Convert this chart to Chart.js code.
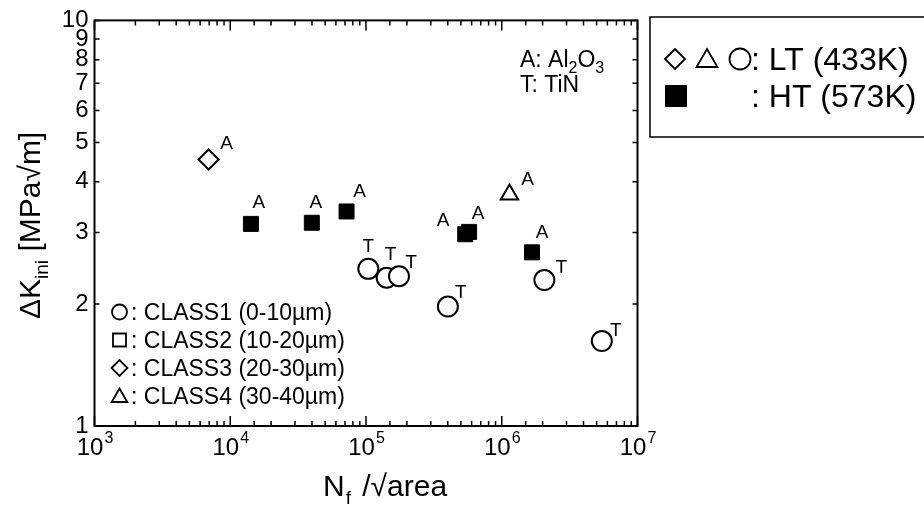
<!DOCTYPE html>
<html>
<head>
<meta charset="utf-8">
<script src="https://cdn.jsdelivr.net/npm/chart.js@4/dist/chart.umd.min.js"></script>
<style>
html,body{margin:0;padding:0;background:#fff;}
#wrap{width:924px;height:518px;}
</style>
</head>
<body>
<div id="wrap"><canvas id="c" width="924" height="518"></canvas></div>
<script>
// ---------- DATA ----------
const circleX = [104000, 142000, 175000, 401000, 2060000, 5460000];   // CLASS1, LT
const circleY = [2.44, 2.32, 2.34, 1.97, 2.29, 1.62];
const circleLabels = ['T', 'T', 'T', 'T', 'T', 'T'];

const diamondX = [6930];      // CLASS3, LT
const diamondY = [4.54];
const diamondLabels = ['A'];

const triangleX = [1140000];  // CLASS4, LT
const triangleY = [3.72];
const triangleLabels = ['A'];

const squareX = [14200, 39900, 71900, 538000, 575000, 1670000];   // HT
const squareY = [3.15, 3.17, 3.38, 2.97, 3.01, 2.68];
const squareLabels = ['A', 'A', 'A', 'A', 'A', 'A'];

const yTickValues = [1, 2, 3, 4, 5, 6, 7, 8, 9, 10];
const xDecades = [3, 4, 5, 6, 7];
const classLegend = [': CLASS1 (0-10µm)', ': CLASS2 (10-20µm)', ': CLASS3 (20-30µm)', ': CLASS4 (30-40µm)'];
const tempLegend = [': LT (433K)', ': HT (573K)'];

// ---------- STYLE ----------
const FONT = '"Liberation Sans", Arial, Helvetica, sans-serif';
// label offsets (px) relative to each marker
const circleOff = [[0,-22],[4,-23],[12,-13],[13,-14],[17,-12],[14,-10]];
const diamondOff = [[18,-16]];
const triangleOff = [[18,-15]];
const squareOff = [[8,-21],[4,-20],[13,-20],[-22,-13],[9,-18],[10,-20]];

function pts(xs, ys){ return xs.map((x,i)=>({x:x, y:ys[i]})); }

const datasets = [
  {label:'HT', data:pts(squareX, squareY), pointStyle:'rect', pointRadius:10.6,
   backgroundColor:'#000', borderColor:'#000', borderWidth:1, labels:squareLabels, offs:squareOff},
  {label:'CLASS3', data:pts(diamondX, diamondY), pointStyle:'rectRot', pointRadius:10,
   backgroundColor:'#fff', borderColor:'#000', borderWidth:2, labels:diamondLabels, offs:diamondOff},
  {label:'CLASS4', data:pts(triangleX, triangleY), pointStyle:'triangle', pointRadius:10,
   backgroundColor:'#fff', borderColor:'#000', borderWidth:2, labels:triangleLabels, offs:triangleOff},
  {label:'CLASS1', data:pts(circleX, circleY), pointStyle:'circle', pointRadius:10,
   backgroundColor:'#fff', borderColor:'#000', borderWidth:2, labels:circleLabels, offs:circleOff}
];

function drawSym(ctx, type, x, y, r, filled){
  ctx.beginPath();
  if(type==='circle'){ ctx.arc(x,y,r,0,Math.PI*2); }
  else if(type==='square'){ ctx.rect(x-r,y-r,2*r,2*r); }
  else if(type==='diamond'){ ctx.moveTo(x-r,y); ctx.lineTo(x,y-r); ctx.lineTo(x+r,y); ctx.lineTo(x,y+r); ctx.closePath(); }
  else if(type==='triangle'){ ctx.moveTo(x,y-r); ctx.lineTo(x+r*0.87,y+r*0.5); ctx.lineTo(x-r*0.87,y+r*0.5); ctx.closePath(); }
  if(filled){ ctx.fillStyle='#000'; ctx.fill(); }
  else { ctx.fillStyle='#fff'; ctx.fill(); ctx.strokeStyle='#000'; ctx.lineWidth=1.8; ctx.stroke(); }
}

const decor = {
  id:'decor',
  afterDatasetsDraw(chart){
    const ctx = chart.ctx;
    const xs = chart.scales.x, ys = chart.scales.y;
    const ca = chart.chartArea;
    ctx.save();
    // point labels
    ctx.fillStyle = '#000';
    ctx.font = '19px ' + FONT;
    ctx.textAlign = 'center'; ctx.textBaseline = 'middle';
    chart.data.datasets.forEach((ds, di)=>{
      const meta = chart.getDatasetMeta(di);
      meta.data.forEach((el, i)=>{
        const o = ds.offs[i];
        ctx.fillText(ds.labels[i], el.x + o[0], el.y + o[1]);
      });
    });

    // frame
    ctx.strokeStyle = '#000'; ctx.lineWidth = 2;
    ctx.strokeRect(ca.left, ca.top, ca.right-ca.left, ca.bottom-ca.top);
    // ticks
    ctx.lineWidth = 1.5;
    ctx.beginPath();
    xs.ticks.forEach(t=>{
      const px = xs.getPixelForValue(t.value);
      const isMajor = Math.abs(Math.log10(t.value) - Math.round(Math.log10(t.value))) < 1e-9;
      const L = isMajor ? 10 : 5;
      ctx.moveTo(px, ca.bottom); ctx.lineTo(px, ca.bottom - L);
      ctx.moveTo(px, ca.top); ctx.lineTo(px, ca.top + L);
    });
    ys.ticks.forEach(t=>{
      const py = ys.getPixelForValue(t.value);
      ctx.moveTo(ca.left, py); ctx.lineTo(ca.left + 5, py);
      ctx.moveTo(ca.right, py); ctx.lineTo(ca.right - 5, py);
    });
    ctx.stroke();

    // x tick labels 10^n
    ctx.fillStyle = '#000';
    ctx.textBaseline = 'alphabetic';
    xDecades.forEach(e=>{
      const px = xs.getPixelForValue(Math.pow(10, e));
      ctx.font = '24px ' + FONT;
      const w1 = ctx.measureText('10').width;
      ctx.font = '16px ' + FONT;
      const w2 = ctx.measureText(String(e)).width;
      const x0 = px - (w1 + w2)/2;
      ctx.font = '24px ' + FONT; ctx.textAlign = 'left';
      ctx.fillText('10', x0, 455);
      ctx.font = '16px ' + FONT;
      ctx.fillText(String(e), x0 + w1 + 1, 443);
    });

    // x title
    ctx.textAlign = 'left';
    ctx.font = '30px ' + FONT;
    let tx = 323, ty = 496;
    ctx.fillText('N', tx, ty); tx += ctx.measureText('N').width;
    ctx.font = '19px ' + FONT;
    ctx.fillText('f', tx + 1, ty + 8); tx += ctx.measureText('f').width + 4;
    ctx.font = '30px ' + FONT;
    ctx.fillText(' /√area', tx, ty);

    // y title (rotated)
    ctx.save();
    ctx.translate(40, 319);
    ctx.rotate(-Math.PI/2);
    ctx.font = '30px ' + FONT;
    let yx = 0;
    ctx.fillText('ΔK', yx, 0); yx += ctx.measureText('ΔK').width;
    ctx.font = '19px ' + FONT;
    ctx.fillText('ini', yx, 8); yx += ctx.measureText('ini').width;
    ctx.font = '30px ' + FONT;
    ctx.fillText(' [MPa√m]', yx, 0);
    ctx.restore();

    // material annotation
    ctx.font = '23px ' + FONT;
    let ax = 520;
    ctx.fillText('A: Al', ax, 67); ax += ctx.measureText('A: Al').width;
    ctx.font = '16px ' + FONT;
    ctx.fillText('2', ax, 73); ax += ctx.measureText('2').width;
    ctx.font = '23px ' + FONT;
    ctx.fillText('O', ax, 67); ax += ctx.measureText('O').width;
    ctx.font = '16px ' + FONT;
    ctx.fillText('3', ax, 73);
    ctx.font = '23px ' + FONT;
    ctx.fillText('T: TiN', 520, 92);

    // class legend (inside plot)
    const syms = ['circle','square','diamond','triangle'];
    const rows = [312, 340, 368, 396];
    const sr = {circle:7.5, square:6.5, diamond:8, triangle:9};
    ctx.font = '23px ' + FONT;
    syms.forEach((s,i)=>{
      const cy = s==='triangle' ? rows[i]+1.5 : rows[i];
      drawSym(ctx, s, 119.5, cy, sr[s], false);
      ctx.fillStyle = '#000';
      ctx.fillText(classLegend[i], 131, rows[i] + 8);
    });

    // temperature legend box
    ctx.strokeStyle = '#000'; ctx.lineWidth = 1.5;
    ctx.strokeRect(650, 17, 300, 120);
    drawSym(ctx, 'diamond', 675, 59, 10, false);
    drawSym(ctx, 'triangle', 707, 61, 12, false);
    drawSym(ctx, 'circle', 740, 59, 10.5, false);
    drawSym(ctx, 'square', 676, 96, 11, true);
    ctx.fillStyle = '#000';
    ctx.font = '32px ' + FONT;
    ctx.fillText(tempLegend[0], 751, 70);
    ctx.fillText(tempLegend[1], 751, 107);

    ctx.restore();
  }
};

new Chart(document.getElementById('c'), {
  type:'scatter',
  data:{datasets:datasets},
  options:{
    responsive:false,
    animation:false,
    events:[],
    layout:{padding:{left:0, top:18, right:924-637.5, bottom:0}},
    plugins:{legend:{display:false}, tooltip:{enabled:false}, title:{display:false}},
    scales:{
      x:{type:'logarithmic', min:1000, max:1e7,
         grid:{display:false, drawTicks:false}, border:{display:false},
         ticks:{display:true, autoSkip:false, maxRotation:0, callback:()=>'' , font:{size:1}},
         afterFit(s){ s.height = 518-426; }},
      y:{type:'logarithmic', min:1, max:10,
         grid:{display:false, drawTicks:false}, border:{display:false},
         afterBuildTicks(s){ s.ticks = yTickValues.map(v=>({value:v})); },
         ticks:{autoSkip:false, padding:6, color:'#000',
                font:{family:FONT, size:24},
                callback:(v)=> String(v)},
         afterFit(s){ s.width = 94.5; }}
    }
  },
  plugins:[decor]
});
</script>
</body>
</html>
